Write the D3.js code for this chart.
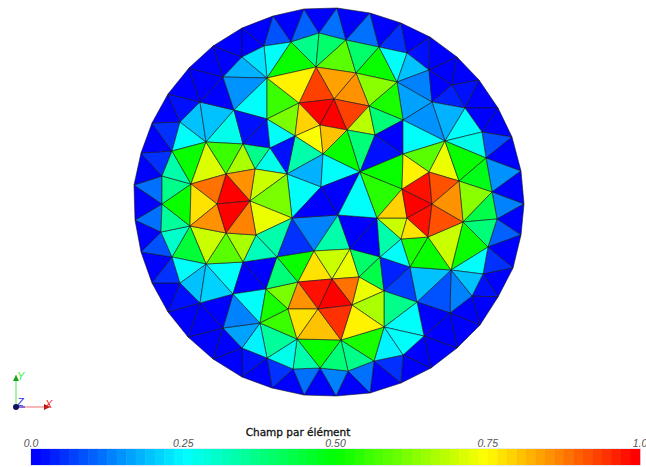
<!DOCTYPE html>
<html><head><meta charset="utf-8">
<script src="https://cdn.jsdelivr.net/npm/d3@7"></script>
<style>html,body{margin:0;padding:0;background:#fff}svg{display:block}</style>
</head><body><svg id="c" width="646" height="467"></svg>
<script>
// Mesh nodes in mesh units (centre of disc = 0,0; radius = 195)
const boundaryNodes = [[-25,192],[8,193],[41,188],[72,178],[101,164],[128,144],[150,121],[169,93],[183,64],[192,30],[195,-3],[192,-34],[184,-67],[169,-96],[151,-124],[128,-147],[102,-167],[72,-182],[41,-192],[7,-195],[-25,-194],[-57,-187],[-87,-176],[-116,-158],[-141,-136],[-161,-111],[-177,-82],[-188,-51],[-194,-19],[-195,16],[-188,48],[-177,78],[-161,107],[-140,133],[-116,155],[-87,173],[-56,185]];
const ringNodes = [[-10,168],[17,161],[50,154],[78,148],[100,131],[123,116],[136,93],[153,69],[157,43],[163,9],[168,-18],[159,-46],[154,-73],[143,-95],[121,-112],[95,-135],[74,-154],[45,-160],[19,-170],[-9,-167],[-36,-168],[-62,-157],[-87,-147],[-106,-127],[-129,-102],[-149,-82],[-157,-56],[-168,-31],[-167,-3],[-167,25],[-157,50],[-149,79],[-129,99],[-106,124],[-87,144],[-65,155],[-38,159]];
const innerNodes = [[-13,134],[27,128],[-62,123],[68,119],[-30,98],[5,102],[40,95],[-62,82],[-95,91],[-9,76],[18,71],[-34,65],[46,66],[74,81],[103,99],[116,60],[-6,47],[31,29],[-59,53],[-42,27],[-8,14],[9,-14],[-37,-17],[48,-17],[-15,-50],[21,-48],[-52,-56],[-86,57],[-123,59],[-74,32],[-103,27],[-138,17],[-112,-3],[-79,0],[-139,-25],[-103,-32],[-73,-34],[-123,-63],[-86,-61],[-96,-93],[-63,-88],[-31,-81],[-41,-108],[-69,-122],[-32,-138],[-11,-108],[3,-78],[30,-76],[23,-104],[55,-90],[55,-126],[12,-139],[51,-56],[78,-17],[103,-3],[134,-21],[72,-38],[99,-36],[122,-69],[81,-66],[88,-101],[74,47],[100,29],[130,20],[73,12]];

// Outer band: node triples and field values
const outerTriangles = ["B36 B0 R36","B0 R36 R0","B0 B1 R0","B1 R0 R1","B1 B2 R1","B2 R1 R2","B2 B3 R2","B3 R2 R3","B3 B4 R3","B4 R3 R4","B4 B5 R4","B5 R4 R5","B5 B6 R5","B6 R5 R6","B6 B7 R6","B7 R6 R7","B7 B8 R7","B8 R7 R8","B8 B9 R8","B9 R8 R9","B9 B10 R9","B10 R9 R10","B10 B11 R10","B11 R10 R11","B11 B12 R11","B12 R11 R12","B12 B13 R12","B13 R12 R13","B13 B14 R13","B14 R13 R14","B14 B15 R14","B15 R14 R15","B15 B16 R15","B16 R15 R16","B16 B17 R16","B17 R16 R17","B17 B18 R17","B18 R17 R18","B18 B19 R18","B19 R18 R19","B19 B20 R19","B20 R19 R20","B20 B21 R20","B21 R20 R21","B21 B22 R21","B22 R21 R22","B22 B23 R22","B23 R22 R23","B23 B24 R23","B24 R23 R24","B24 B25 R24","B25 R24 R25","B25 B26 R25","B26 R25 R26","B26 B27 R26","B27 R26 R27","B27 B28 R27","B28 R27 R28","B28 B29 R28","B29 R28 R29","B29 B30 R29","B30 R29 R30","B30 B31 R30","B31 R30 R31","B31 B32 R31","B32 R31 R32","B32 B33 R32","B33 R32 R33","B33 B34 R33","B34 R33 R34","B34 B35 R34","B35 R34 R35","B35 B36 R35","B36 R35 R36"];
const outerValues = [0,.1,0,.12,0,.12,0,.06,0,.02,0,0,0,.02,0,0,0,.09,0,.15,0,.13,0,.1,0,.05,0,.02,0,0,0,0,0,.01,0,.06,0,.11,0,.13,0,.12,0,.05,0,.02,0,0,0,0,0,.02,0,.05,0,.08,0,.11,0,.11,0,.06,0,.05,0,.02,0,0,0,0,0,.01,0,.08];

// Interior triangles: [a, b, c, value]
const innerTriangles = [
["R35","R36","I2",.25],["R36","R0","I0",.37],["R36","I0","I2",.5],["R0","R1","I0",.4],["R1","I0","I1",.59],["R1","R2","I1",.4],["R2","I1","I3",.5],["R2","R3","I3",.25],["R3","R4","I3",.19],["R4","I3","I14",.14],["R4","R5","I14",.01],["R5","R6","I14",.04],["R6","I14","I15",.18],["R6","R7","I15",.25],["R7","R8","I15",.28],["I15","I14","I13",.15],["I14","I3","I13",.17],
["I3","I6","I13",.53],["I1","I3","I6",.64],["I1","I5","I6",.85],["I0","I1","I5",.84],["I0","I4","I5",.93],["I4","I5","I9",.99],["I5","I9","I10",1],["I5","I6","I10",.93],["I6","I10","I12",.68],["I6","I12","I13",.38],["I10","I12","I17",.39],["I10","I16","I17",.5],["I12","I13","I61",0],["I12","I61","I17",.02],["I13","I15","I61",.26],["I15","I61","I62",.58],["I15","I62","I63",.73],["I15","R8","I63",.5],["R8","R9","I63",.48],["R9","I63","I55",.63],["R9","R10","I55",.43],["R10","R11","I55",.38],["R11","I55","I58",.5],["R11","R12","I58",.25],["R12","R13","I58",.2],["R13","R14","I58",.13],["R14","I58","I60",.08],["R14","R15","I60",.01],["I60","R15","I50",.25],["R15","R16","I50",.25],["R16","R17","I50",.24],["R17","R18","I51",.36],["R17","I50","I51",.52],["R18","R19","I51",.38],["R19","I44","I51",.5],["R19","R20","I44",.33],["R20","R21","I44",.28],["R21","I43","I44",.35],["R21","R22","I43",.24],["R22","R23","I43",.17],["R23","I39","I43",.13],["R23","R24","I39",.01],["R25","I37","R24",.19],["I37","I39","R24",.21],["I37","I38","I39",.25],["I38","I39","I40",0],["I38","I26","I40",0],["I39","I40","I43",.25],["I40","I42","I43",.52],["I40","I41","I42",.61],["I26","I41","I40",.39],["I43","I42","I44",.56],
["I22","I26","I24",.05],["I21","I22","I24",.14],["I21","I25","I24",.33],["I21","I23","I25",0],["I23","I52","I25",0],["I26","I24","I41",.5],["I24","I41","I46",.77],["I24","I25","I46",.7],["I25","I46","I47",.72],["I25","I52","I47",.4],["I47","I52","I49",.43],["I52","I49","I59",.04],["I49","I59","I60",.07],["I49","I60","I50",.37],["I59","I58","I60",.19],["I59","I57","I58",.5],["I57","I55","I58",.69],["I56","I57","I59",.52],["I52","I56","I59",.25],["I23","I56","I52",.33],["I53","I56","I23",.69],["I53","I57","I56",.78],["I53","I54","I57",.98],["I54","I55","I57",.91],["I47","I49","I48",.73],["I48","I49","I50",.67],["I51","I48","I50",.75],["I46","I47","I48",.89],["I46","I48","I45",1],["I41","I46","I45",.97],["I41","I42","I45",.85],["I42","I44","I45",.78],["I44","I45","I51",.8],["I45","I48","I51",.95],
["R30","I28","R31",.25],["R31","R32","I28",.19],["R32","I8","I28",.2],["R32","R33","I8",.01],["R33","R34","I2",.18],["R33","I2","I8",.15],["R34","R35","I2",.23],["I2","I8","I7",.25],["I8","I28","I27",.28],["I8","I7","I27",.02],["I7","I18","I27",.02],["I2","I7","I4",.55],["I2","I4","I0",.75],["I7","I4","I11",.62],["I7","I11","I18",.26],["I4","I9","I11",.79],["I9","I11","I16",.74],["I9","I10","I16",.8],["I11","I16","I19",.33],["I11","I18","I19",.02],["I16","I19","I20",.18],["I16","I17","I20",.25],["I17","I20","I21",0],["I19","I20","I22",.25],["I20","I21","I22",0],["I21","I17","I23",.25],["I18","I27","I29",.37],["I18","I29","I19",.28],["I19","I29","I33",.69],["I19","I33","I22",.62],["I33","I36","I22",.73],["I22","I36","I26",.33],["I36","I26","I38",.32],["I35","I36","I38",.67],["I35","I37","I38",.58],["I34","I35","I37",.69],["I34","I37","R26",.45],["I34","R26","R27",.31],["R26","R25","I37",.25],
["I34","R27","R28",.35],["I31","I34","R28",.5],["I31","R28","R29",.36],["I31","R29","R30",.33],["I31","R30","I28",.5],["I31","I28","I30",.71],["I28","I27","I30",.56],["I27","I29","I30",.67],["I30","I29","I33",.85],["I30","I32","I33",.99],["I31","I30","I32",.89],["I31","I32","I34",.78],["I32","I34","I35",.85],["I32","I33","I35",1],["I33","I35","I36",.86],
["I17","I61","I64",.5],["I17","I64","I23",.54],["I23","I64","I53",.79],["I64","I53","I54",1],["I64","I62","I54",.97],["I62","I63","I54",.91],["I63","I54","I55",.85],["I61","I62","I64",.75]
];

const legendTicks = [0,.25,.5,.75,1];
const legendTickLabels = ["0.0","0.25","0.50","0.75","1.0"];
const legendTitle = "Champ par élément";
const levels = 64;

const x = d3.scaleLinear().domain([-195,195]).range([134,524]);
const y = d3.scaleLinear().domain([-195,195]).range([396,6]);
const ramp = d3.scaleLinear().domain(legendTicks).range(["#0000ff","#00ffff","#00ff00","#ffff00","#ff0000"]);
const lut = v => ramp(Math.min(levels-1,Math.floor(v*levels))/(levels-1));

const node = id => (id[0]==="B"?boundaryNodes:id[0]==="R"?ringNodes:innerNodes)[+id.slice(1)];
const rows = outerTriangles.map((s,i)=>[...s.split(" "),outerValues[i]]).concat(innerTriangles);
const svg = d3.select("#c");
const line = d3.line().x(d=>x(d[0])).y(d=>y(d[1])).curve(d3.curveLinearClosed);

svg.append("g").selectAll("path").data(rows).join("path")
  .attr("d",r=>line(r.slice(0,3).map(node)))
  .attr("fill",r=>lut(r[3]))
  .attr("stroke","#14141e").attr("stroke-width",.6).attr("stroke-linejoin","round");

// legend
const lx = d3.scaleLinear().domain([0,1]).range([31,640]);
const steps = d3.range(levels);
svg.append("g").selectAll("rect").data(steps).join("rect")
  .attr("x",i=>lx(i/levels)).attr("y",449).attr("height",16)
  .attr("width",lx(1/levels)-lx(0)+.5).attr("fill",i=>ramp(i/(levels-1)));
svg.append("rect").attr("x",30.5).attr("y",448.5).attr("width",610).attr("height",17)
  .attr("fill","none").attr("stroke","#d8d8ee").attr("stroke-width",.6);
svg.append("g").selectAll("text").data(legendTicks).join("text")
  .attr("x",d=>lx(d)).attr("y",447).attr("text-anchor","middle")
  .attr("font-family","Liberation Sans").attr("font-style","italic").attr("font-size",10.5).attr("fill","#555")
  .text((d,i)=>legendTickLabels[i]);
svg.append("text").attr("x",298).attr("y",436).attr("text-anchor","middle")
  .attr("font-family","DejaVu Sans").attr("font-size",10.5).attr("stroke","#111").attr("stroke-width",.3).attr("fill","#111").text(legendTitle);

// axis triad
const triad = svg.append("g");
const ox=16, oy=407;
const arrows = [{dx:34,dy:0,c:"#f07070",lbl:"X",lc:"#ee2222",lx:29,ly:1},{dx:0,dy:-32,c:"#50e850",lbl:"Y",lc:"#44ee44",lx:1,ly:-27},{dx:9,dy:0,c:"#2020e0",lbl:"Z",lc:"#3333ee",lx:1,ly:-1}];
arrows.forEach(a=>{
  triad.append("line").attr("x1",ox).attr("y1",oy).attr("x2",ox+a.dx).attr("y2",oy+a.dy).attr("stroke",a.c).attr("stroke-width",1);
  if(a.lbl!=="Z"){
    const p = a.lbl==="X"?`M${ox+a.dx},${oy} l-6,-3 l0,6 Z`:`M${ox},${oy+a.dy} l-3,6 l6,0 Z`;
    triad.append("path").attr("d",p).attr("fill",a.lbl==="X"?"#b01818":"#18a018");
  }
  triad.append("text").attr("x",ox+a.lx).attr("y",oy+a.ly).attr("font-family","Liberation Sans").attr("font-size",11).attr("font-style","italic").attr("fill",a.lc).text(a.lbl);
});
triad.append("circle").attr("cx",ox).attr("cy",oy).attr("r",3).attr("fill","#101060");
</script></body></html>
